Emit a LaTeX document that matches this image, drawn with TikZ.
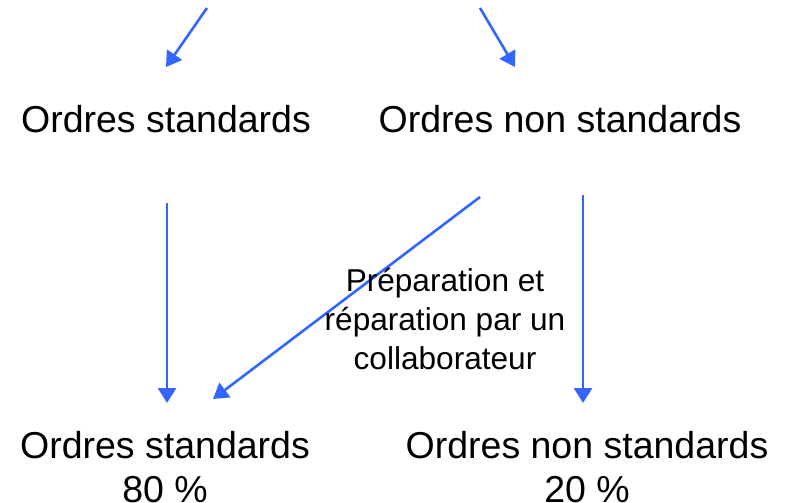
\documentclass[tikz,border=0pt]{standalone}
\usepackage{fontspec}
\setmainfont{Liberation Sans}
\usetikzlibrary{arrows.meta}
\definecolor{arrowblue}{RGB}{51,102,255}
\tikzset{
  flow/.style={draw=arrowblue, line width=2.6pt, -{Triangle[length=15pt,width=18pt]}},
  bigtext/.style={inner sep=0pt, font=\fontsize{37.5}{44}\selectfont, align=center},
  labeltext/.style={inner sep=0pt, font=\fontsize{31.6}{39}\selectfont, align=center},
}
\begin{document}
\begin{tikzpicture}[x=1pt,y=-1pt]
\useasboundingbox (0,0) rectangle (785,503);
% text nodes
\node[bigtext, anchor=base] (ts) at (166,132) {Ordres standards};
\node[bigtext, anchor=base] (tn) at (560,132) {Ordres non standards};
\node[bigtext, anchor=north] (bs) at (165,431) {Ordres standards\\80 \%};
\node[bigtext, anchor=north] (bn) at (587,431) {Ordres non standards\\20 \%};
% connector ends
\coordinate (a1s) at (207,8);
\coordinate (a1e) at (166,67);
\coordinate (a2s) at (480,8);
\coordinate (a2e) at (515,67);
\coordinate (v1s) at (167,203);
\coordinate (v1e) at (167,403);
\coordinate (ds) at (480,197);
\coordinate (de) at (213,399);
\coordinate (v2s) at (583,195);
\coordinate (v2e) at (583,403);
% connectors
\draw[flow] (a1s) -- (a1e);
\draw[flow] (a2s) -- (a2e);
\draw[flow] (v1s) -- (v1e);
\draw[flow] (ds) -- (de);
\draw[flow] (v2s) -- (v2e);
% label
\node[labeltext, anchor=north] (lab) at (445,268) {Préparation et\\réparation par un\\collaborateur};
\end{tikzpicture}
\end{document}
